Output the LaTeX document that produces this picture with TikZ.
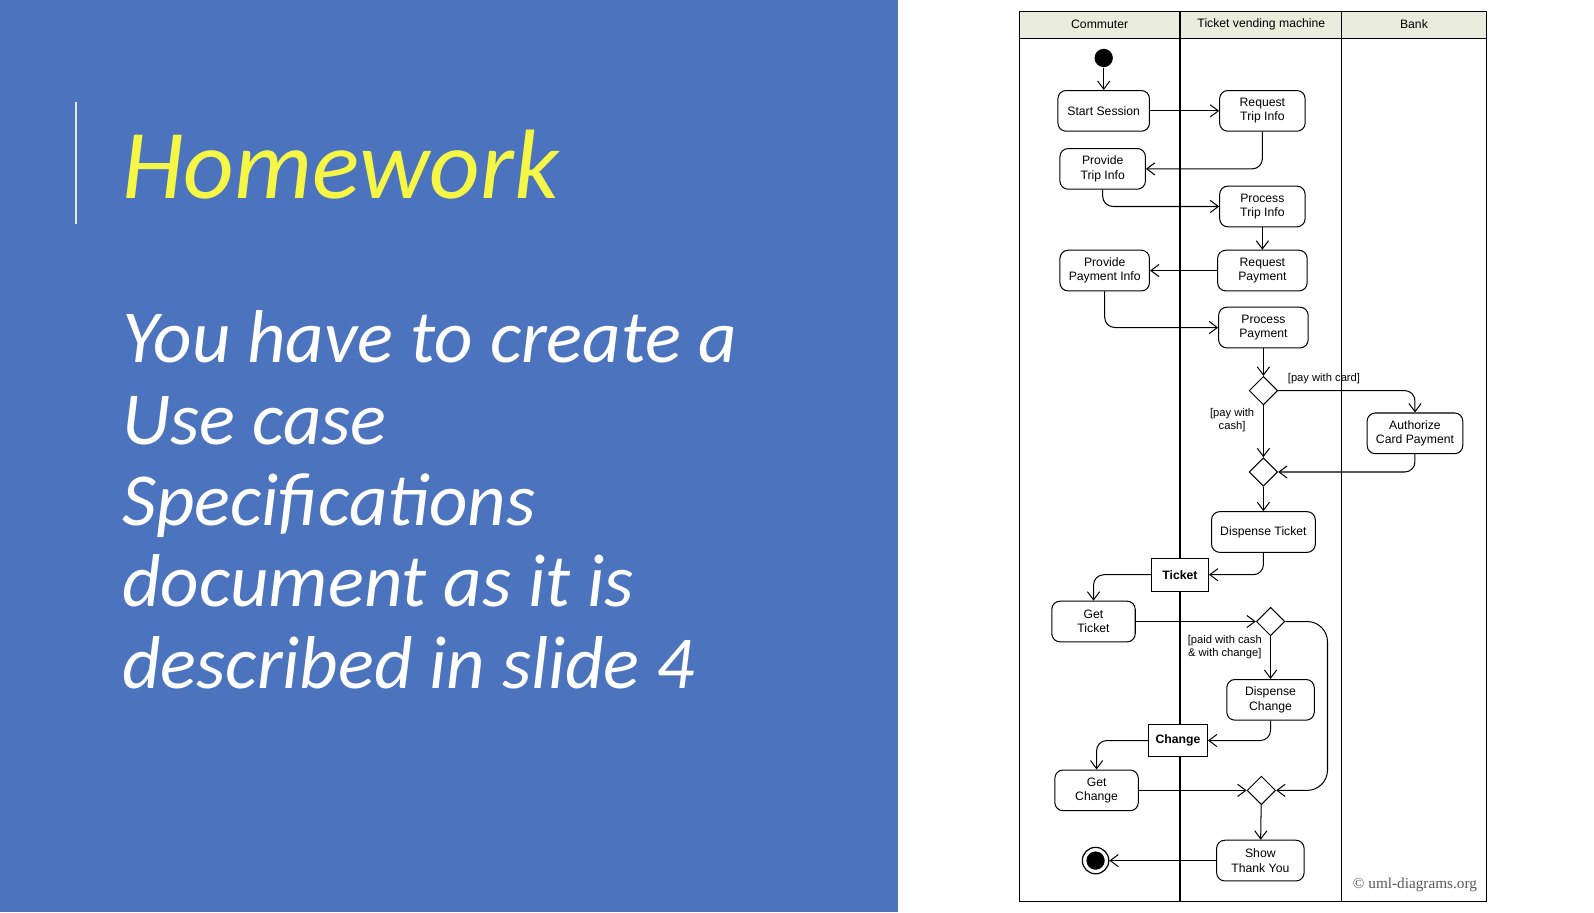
\documentclass[tikz,border=0pt]{standalone}
\usepackage{fontspec}
\setmainfont{Liberation Sans}
\newfontfamily\slidefont{Carlito}
\newfontfamily\copyfont{Liberation Serif}
\usetikzlibrary{arrows.meta,shapes.geometric}
\definecolor{panel}{RGB}{76,115,190}
\definecolor{hw}{RGB}{246,246,70}
\definecolor{hdr}{RGB}{234,237,221}
\tikzset{
 act/.style={draw,rounded corners=4pt,align=center,font=\fontsize{6}{7}\selectfont,minimum height=20pt,inner sep=1pt,line width=0.5pt},
 obj/.style={draw,fill=white,align=center,font=\fontsize{6}{7}\selectfont\bfseries,minimum height=16pt,minimum width=28pt,inner sep=1pt,line width=0.5pt},
 dec/.style={draw,diamond,minimum width=14pt,minimum height=14pt,inner sep=0pt,line width=0.5pt},
 flow/.style={-{Straight Barb[length=4pt,width=6pt]},line width=0.5pt,rounded corners=5pt},
 guard/.style={font=\fontsize{5.5}{6.5}\selectfont,align=center},
 lane/.style={line width=0.5pt}
}
\begin{document}
\begin{tikzpicture}[x=0.5pt,y=-0.5pt]
\useasboundingbox (0,0) rectangle (1567,897);
\fill[white] (0,0) rectangle (1567,897);
\fill[panel] (0,0) rectangle (883,897);
\draw[white!85!panel,line width=1pt] (75,100) -- (75,220);
\node[anchor=base west,inner sep=0,text=hw,font=\slidefont\itshape\fontsize{48.5}{52}\selectfont] (title) at (120,195) {Homework};
\node[anchor=north west,inner sep=0,text=white,align=left,font=\slidefont\itshape\fontsize{36.8}{40}\selectfont] (body) at (120,305) {You have to create a\\Use case\\Specifications\\document as it is\\described in slide 4};
% swimlanes
\fill[hdr] (1002,11) rectangle (1461,38);
\draw[lane] (1002,11) rectangle (1461,886);
\draw[lane] (1002,38) -- (1461,38);
\draw[lane] (1160,11) -- (1160,886);
\draw[lane] (1319,11) -- (1319,886);
\node[font=\fontsize{6}{7}\selectfont] (h1) at (1081,24) {Commuter};
\node[font=\fontsize{6}{7}\selectfont] (h2) at (1240,24) {Ticket vending machine};
\node[font=\fontsize{6}{7}\selectfont] (h3) at (1390,24) {Bank};
% nodes
\node[circle,fill=black,minimum size=9pt,inner sep=0] (init) at (1085,57) {};
\node[act,minimum width=45pt] (start) at (1085,109) {Start Session};
\node[act,minimum width=42pt] (reqtrip) at (1241,109) {Request\\Trip Info};
\node[act,minimum width=42pt] (provtrip) at (1084,166) {Provide\\Trip Info};
\node[act,minimum width=42pt] (proctrip) at (1241,203) {Process\\Trip Info};
\node[act,minimum width=44pt] (reqpay) at (1241,266) {Request\\Payment};
\node[act,minimum width=44pt] (provpay) at (1086,266) {Provide\\Payment Info};
\node[act,minimum width=44pt] (procpay) at (1242,322) {Process\\Payment};
\node[dec] (d1) at (1242,384) {};
\node[act,minimum width=47pt] (auth) at (1391,426) {Authorize\\Card Payment};
\node[dec] (d2) at (1242,464) {};
\node[act,minimum width=51pt] (dispt) at (1242,523) {Dispense Ticket};
\node[obj] (ticket) at (1160,565) {Ticket};
\node[act,minimum width=41pt] (gett) at (1075,611) {Get\\Ticket};
\node[dec] (d3) at (1249,611) {};
\node[act,minimum width=43pt] (dispc) at (1249,688) {Dispense\\Change};
\node[obj,minimum width=29pt] (change) at (1158,728) {Change};
\node[act,minimum width=41pt] (getc) at (1078,777) {Get\\Change};
\node[dec] (d4) at (1240,777) {};
\node[act,minimum width=43pt] (show) at (1239,846) {Show\\Thank You};
\node[circle,draw,line width=0.6pt,minimum size=13pt,inner sep=0] (final) at (1077,846) {};
\fill (final) circle (4.5pt);
\node[font=\copyfont\fontsize{7.5}{8}\selectfont,text=black!65] (copy) at (1391,870) {\textcopyright\ uml-diagrams.org};
% flows
\draw[flow] (init) -- (start);
\draw[flow] (start) -- (reqtrip);
\draw[flow] (reqtrip.south) |- (provtrip.east);
\draw[flow] (provtrip.south) |- (proctrip.west);
\draw[flow] (proctrip) -- (reqpay);
\draw[flow] (reqpay) -- (provpay);
\draw[flow] (provpay.south) |- (procpay.west);
\draw[flow] (procpay) -- (d1);
\draw[flow] (d1.east) -| (auth.north);
\node[guard,anchor=west] (g1) at (1259,372) {[pay with card]};
\draw[flow] (d1.south) -- (d2.north);
\node[guard,anchor=east] (g2) at (1240,413) {[pay with\\cash]};
\draw[flow] (auth.south) |- (d2.east);
\draw[flow] (d2) -- (dispt);
\draw[flow] (dispt.south) |- (ticket.east);
\draw[flow] (ticket.west) -| (gett.north);
\draw[flow] (gett.east) -- (d3.west);
\draw[flow] (d3.south) -- (dispc.north);
\node[guard] (g3) at (1204,636) {[paid with cash\\\& with change]};
\coordinate (r1) at (1305,611);
\coordinate (r2) at (1305,777);
\draw[flow,rounded corners=10pt] (d3.east) -- (r1) -- (r2) -- (d4.east);
\draw[flow] (dispc.south) |- (change.east);
\draw[flow] (change.west) -| (getc.north);
\draw[flow] (getc.east) -- (d4.west);
\draw[flow] (d4) -- (show);
\draw[flow] (show) -- (final);
\end{tikzpicture}
\end{document}
